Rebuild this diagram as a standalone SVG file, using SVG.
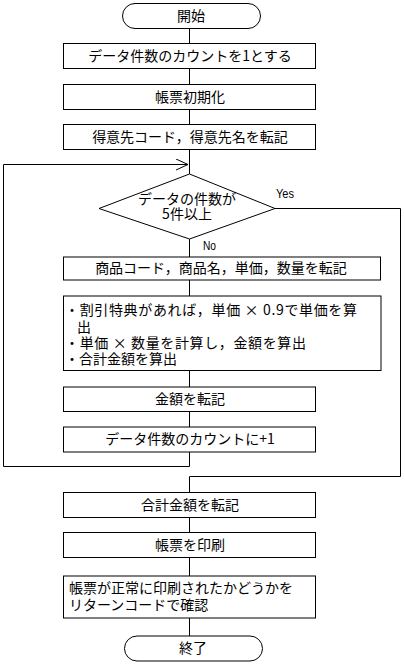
<svg xmlns="http://www.w3.org/2000/svg" width="405" height="664" viewBox="0 0 405 664">
<style>
.box{fill:#fff;stroke:#000;stroke-width:1}
.ln{fill:none;stroke:#000;stroke-width:1}
.t{font-family:"Noto Sans CJK JP","Noto Sans",sans-serif;font-size:14px;fill:#000}
.c{text-anchor:middle}
.s{font-family:"Liberation Sans","Noto Sans",sans-serif;font-size:13px;fill:#000}
</style>
<defs>
<marker id="arr" markerUnits="userSpaceOnUse" markerWidth="14" markerHeight="13" refX="13" refY="6" orient="auto">
<path d="M1,0.5 L13,6 L1,11.5" fill="none" stroke="#000" stroke-width="1"/>
</marker>
</defs>
<rect width="405" height="664" fill="#fff"/>
<g id="connectors">
<line class="ln" x1="189.5" y1="28" x2="189.5" y2="43.5"/>
<line class="ln" x1="189.5" y1="68.5" x2="189.5" y2="84.5"/>
<line class="ln" x1="189.5" y1="109.5" x2="189.5" y2="124.5"/>
<line class="ln" x1="189.5" y1="149.5" x2="189.5" y2="174"/>
<polyline class="ln" points="189.5,452 189.5,466.5 3.5,466.5 3.5,164.5 188,164.5" marker-end="url(#arr)"/>
<line class="ln" x1="189.5" y1="239" x2="189.5" y2="257"/>
<line class="ln" x1="189.5" y1="280" x2="189.5" y2="296"/>
<line class="ln" x1="189.5" y1="370.5" x2="189.5" y2="387"/>
<line class="ln" x1="189.5" y1="411.5" x2="189.5" y2="427"/>
<polyline class="ln" points="275,208.5 400.5,208.5 400.5,476.5 189.5,476.5 189.5,492.5"/>
<line class="ln" x1="189.5" y1="517.5" x2="189.5" y2="532.5"/>
<line class="ln" x1="189.5" y1="557.5" x2="189.5" y2="576"/>
<line class="ln" x1="189.5" y1="618" x2="189.5" y2="636"/>
<text class="s" x="276" y="198" textLength="18" lengthAdjust="spacingAndGlyphs">Yes</text>
<text class="s" x="203" y="250" textLength="13" lengthAdjust="spacingAndGlyphs">No</text>
</g>
<g id="start">
<rect class="box" x="122.5" y="3.5" width="138" height="25" rx="12.5" ry="12.5"/>
<text class="t c" x="191" y="21">開始</text>
</g>
<g id="n1">
<rect class="box" x="63.5" y="43.5" width="252" height="25"/>
<text class="t c" x="190" y="61">データ件数のカウントを1とする</text>
</g>
<g id="n2">
<rect class="box" x="63.5" y="84.5" width="252" height="25"/>
<text class="t c" x="190" y="102">帳票初期化</text>
</g>
<g id="n3">
<rect class="box" x="63.5" y="124.5" width="252" height="25"/>
<text class="t c" x="190" y="142">得意先コード，得意先名を転記</text>
</g>
<g id="decision">
<polygon class="box" points="189.5,174 275,208.5 189.5,239 99,208.5"/>
<text class="t c" x="187" y="204">データの件数が</text>
<text class="t c" x="187" y="219">5件以上</text>
</g>
<g id="n4">
<rect class="box" x="63.5" y="257" width="317" height="23"/>
<text class="t c" x="221" y="273">商品コード，商品名，単価，数量を転記</text>
</g>
<g id="n5">
<rect class="box" x="63.5" y="296" width="317.5" height="74.5"/>
<text class="t" x="65" y="315" textLength="292">・割引特典があれば，単価 × 0.9で単価を算</text>
<text class="t" x="77" y="332">出</text>
<text class="t" x="65" y="348" textLength="241">・単価 × 数量を計算し，金額を算出</text>
<text class="t" x="65" y="364">・合計金額を算出</text>
</g>
<g id="n6">
<rect class="box" x="63.5" y="387" width="252" height="24.5"/>
<text class="t c" x="190" y="404">金額を転記</text>
</g>
<g id="n7">
<rect class="box" x="63.5" y="427" width="252" height="25"/>
<text class="t c" x="190" y="444">データ件数のカウントに+1</text>
</g>
<g id="n8">
<rect class="box" x="63.5" y="492.5" width="252" height="25"/>
<text class="t c" x="190" y="510">合計金額を転記</text>
</g>
<g id="n9">
<rect class="box" x="63.5" y="532.5" width="252" height="25"/>
<text class="t c" x="190" y="550">帳票を印刷</text>
</g>
<g id="n10">
<rect class="box" x="63.5" y="576" width="252" height="42"/>
<text class="t" x="69" y="593">帳票が正常に印刷されたかどうかを</text>
<text class="t" x="69" y="610">リターンコードで確認</text>
</g>
<g id="end">
<rect class="box" x="124.5" y="636" width="138" height="25" rx="12.5" ry="12.5"/>
<text class="t c" x="193" y="653">終了</text>
</g>
</svg>
